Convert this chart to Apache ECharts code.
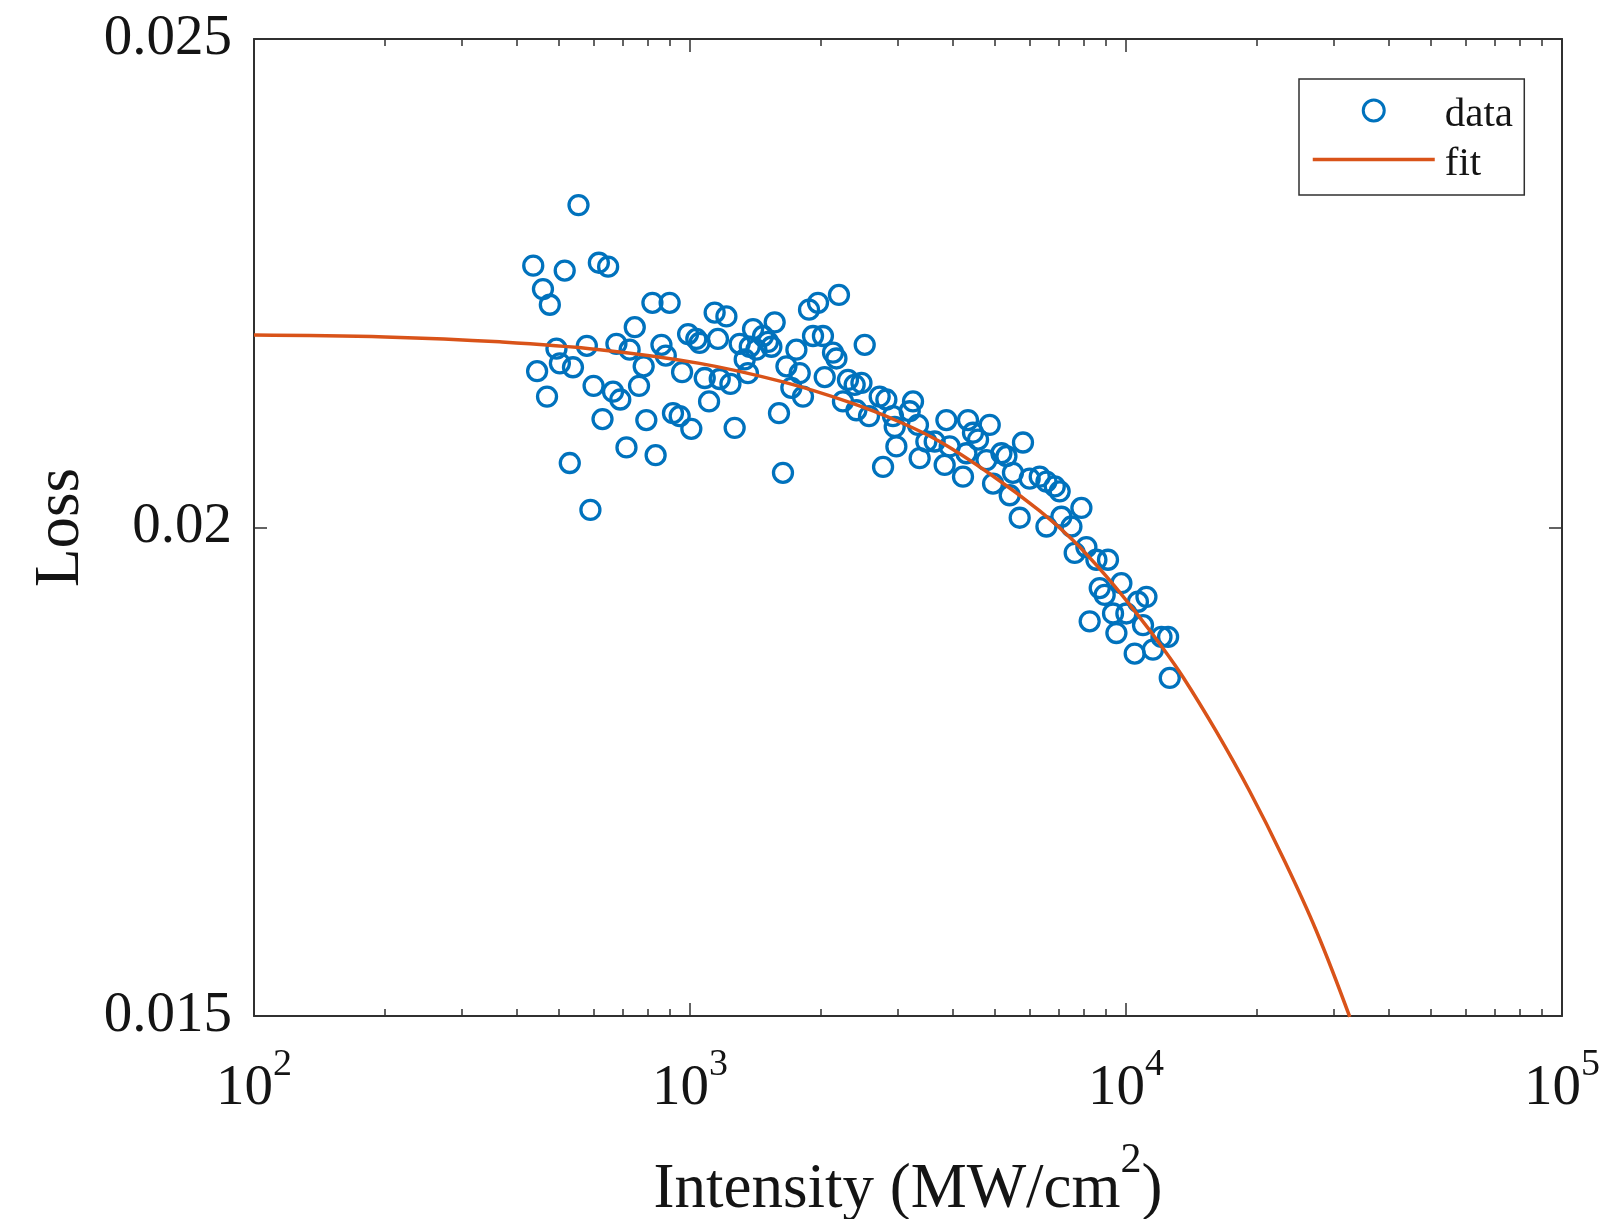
<!DOCTYPE html>
<html>
<head>
<meta charset="utf-8">
<script src="https://cdn.jsdelivr.net/npm/echarts@6/dist/echarts.min.js"></script>
<style>
html,body{margin:0;padding:0;background:#fff;}
#chart{width:1621px;height:1219px;}
</style>
</head>
<body>
<div id="chart"></div>
<script>
// ---- data ----
const intensity = [
  555,437,516,618,649,460,477,820,898,1139,
  1212,747,990,1034,1052,1159,1300,1395,1471,1510,
  1564,1371,1420,1537,1335,494,503,539,580,446,
  470,678,727,783,860,880,959,1081,1170,1238,
  1358,601,666,692,764,1106,630,794,914,947,
  1007,1266,715,834,530,591,1634,1600,1754,1875,
  1966,2196,1915,2018,2128,2167,2516,1664,1785,1708,
  1816,2037,2303,2386,2473,2243,2408,2574,2723,2821,
  2921,2974,2772,2948,3247,3191,3333,3484,3641,3363,
  3873,4341,4869,4457,4578,5804,3941,5179,5318,3838,
  4228,4955,5505,5411,6013,6341,6569,6864,7045,4305,
  4785,5704,6569,7109,7496,7901,7627,8113,8553,9093,
  8704,8935,9759,11140,10650,8254,9338,10020,9506,10940,
  12060,12490,10470,11530,12600
];
const loss = [
  0.02330,0.02268,0.02263,0.02271,0.02267,0.02244,0.02228,0.02230,0.02230,0.02220,
  0.02216,0.02205,0.02198,0.02193,0.02189,0.02193,0.02188,0.02203,0.02196,0.02190,
  0.02210,0.02185,0.02182,0.02185,0.02172,0.02183,0.02168,0.02164,0.02186,0.02160,
  0.02134,0.02188,0.02182,0.02165,0.02187,0.02176,0.02159,0.02153,0.02152,0.02147,
  0.02158,0.02145,0.02139,0.02131,0.02145,0.02129,0.02111,0.02110,0.02117,0.02114,
  0.02101,0.02102,0.02082,0.02074,0.02066,0.02018,0.02056,0.02117,0.02182,0.02223,
  0.02230,0.02238,0.02196,0.02196,0.02179,0.02173,0.02187,0.02165,0.02158,0.02143,
  0.02134,0.02154,0.02151,0.02146,0.02148,0.02129,0.02120,0.02114,0.02134,0.02131,
  0.02114,0.02083,0.02062,0.02103,0.02129,0.02119,0.02105,0.02088,0.02088,0.02071,
  0.02110,0.02110,0.02105,0.02097,0.02090,0.02087,0.02083,0.02076,0.02073,0.02064,
  0.02052,0.02045,0.02056,0.02033,0.02050,0.02052,0.02047,0.02042,0.02037,0.02076,
  0.02069,0.02010,0.02001,0.02011,0.02001,0.02020,0.01974,0.01980,0.01967,0.01967,
  0.01938,0.01931,0.01943,0.01929,0.01924,0.01904,0.01912,0.01912,0.01892,0.01900,
  0.01888,0.01888,0.01871,0.01875,0.01846
];
const fitIntensity = [100,200,366,621,1052,1634,2324,3027,3738,4869,6341,7557,9016,10750,11947,13508,16120,19215,22915,27330,32600];
const fitLoss = [0.02197,0.02195,0.02190,0.02182,0.02168,0.02149,0.02128,0.02108,0.02088,0.02055,0.02017,0.01987,0.01950,0.01908,0.01881,0.01847,0.01791,0.01730,0.01662,0.01587,0.01499];

const xMajorTicks = [100,1000,10000,100000];
const xTickExponents = ['2','3','4','5'];
const xMinorTicks = [200,300,400,500,600,700,800,900,2000,3000,4000,5000,6000,7000,8000,9000,20000,30000,40000,50000,60000,70000,80000,90000];
const yTicks = [0.015,0.02,0.025];
const yTickLabels = ['0.015','0.02','0.025'];
const seriesNames = ['data','fit'];

// ---- chart ----
const FONT = "'Liberation Serif','Times New Roman',serif";
const AXIS_COLOR = '#303030';
const TEXT_COLOR = '#141414';

const scatterData = intensity.map((v,i)=>[v, loss[i]]);
const fitData = fitIntensity.map((v,i)=>[v, fitLoss[i]]);

function xAxisBase(pos){
  return {
    type:'log', logBase:10, min:100, max:100000, gridIndex:0, position:pos,
    splitLine:{show:false}, minorSplitLine:{show:false},
    axisLine:{show:false, lineStyle:{color:AXIS_COLOR, width:2}},
    axisTick:{show:false}, axisLabel:{show:false}
  };
}
const xMajorBottom = Object.assign(xAxisBase('bottom'), {
  axisLine:{show:true, onZero:false, lineStyle:{color:AXIS_COLOR, width:2}},
  axisTick:{show:true, inside:true, length:13, customValues:xMajorTicks, lineStyle:{color:AXIS_COLOR, width:1.5}},
  axisLabel:{
    show:true, margin:30, customValues:xMajorTicks,
    formatter:function(v){
      const idx = xMajorTicks.indexOf(Math.round(v));
      return '{b|10}{s|' + (idx>=0 ? xTickExponents[idx] : '') + '}';
    },
    rich:{
      b:{fontFamily:FONT, fontSize:57, color:TEXT_COLOR, lineHeight:86},
      s:{fontFamily:FONT, fontSize:38, color:TEXT_COLOR, lineHeight:40, verticalAlign:'top'}
    }
  },
  name:'{t|Intensity (MW/cm}{s|2}{t|)}',
  nameLocation:'middle', nameGap:124,
  nameTextStyle:{
    rich:{
      t:{fontFamily:FONT, fontSize:63, color:TEXT_COLOR, lineHeight:100},
      s:{fontFamily:FONT, fontSize:42, color:TEXT_COLOR, lineHeight:30, verticalAlign:'top'}
    }
  }
});
const xMinorBottom = Object.assign(xAxisBase('bottom'), {
  axisTick:{show:true, inside:true, length:7, customValues:xMinorTicks, lineStyle:{color:AXIS_COLOR, width:1.5}}
});
const xMajorTop = Object.assign(xAxisBase('top'), {
  axisLine:{show:true, onZero:false, lineStyle:{color:AXIS_COLOR, width:2}},
  axisTick:{show:true, inside:true, length:13, customValues:xMajorTicks, lineStyle:{color:AXIS_COLOR, width:1.5}}
});
const xMinorTop = Object.assign(xAxisBase('top'), {
  axisTick:{show:true, inside:true, length:7, customValues:xMinorTicks, lineStyle:{color:AXIS_COLOR, width:1.5}}
});

const option = {
  animation:false,
  backgroundColor:'#ffffff',
  grid:{left:254, top:39, width:1308, height:977, containLabel:false, outerBoundsMode:'none'},
  legend:{
    orient:'vertical', left:1299, top:79,
    padding:[16,11,10,12],
    itemWidth:122, itemHeight:21, itemGap:8,
    borderColor:AXIS_COLOR, borderWidth:1.5, backgroundColor:'#ffffff',
    formatter:function(name){ return '{a|' + name + '}{sp| }'; },
    textStyle:{
      fontFamily:FONT, fontSize:41, color:TEXT_COLOR, padding:[0,0,0,5],
      rich:{
        a:{fontFamily:FONT, fontSize:41, color:TEXT_COLOR, lineHeight:41, verticalAlign:'bottom'},
        sp:{fontFamily:FONT, fontSize:1, lineHeight:51}
      }
    },
    data:[
      {name:seriesNames[0], icon:'circle', itemStyle:{color:'rgba(0,0,0,0)', borderColor:'#0072BD', borderWidth:3}},
      {name:seriesNames[1], itemStyle:{color:'rgba(0,0,0,0)', borderColor:'rgba(0,0,0,0)', borderWidth:0, opacity:0},
        lineStyle:{color:'#D95319', width:3.5, opacity:1}}
    ]
  },
  xAxis:[xMajorBottom, xMinorBottom, xMajorTop, xMinorTop],
  yAxis:[
    {
      type:'value', min:0.015, max:0.025, interval:0.005, position:'left', gridIndex:0,
      splitLine:{show:false},
      axisLine:{show:true, onZero:false, lineStyle:{color:AXIS_COLOR, width:2}},
      axisTick:{show:true, inside:true, length:13, lineStyle:{color:AXIS_COLOR, width:1.5}},
      axisLabel:{
        show:true, margin:22, fontFamily:FONT, fontSize:57, color:TEXT_COLOR,
        formatter:function(v){
          const idx = yTicks.findIndex(t=>Math.abs(t-v)<1e-9);
          return idx>=0 ? yTickLabels[idx] : '';
        }
      },
      name:'Loss', nameLocation:'middle', nameGap:160,
      nameTextStyle:{fontFamily:FONT, fontSize:63, color:TEXT_COLOR, lineHeight:63}
    },
    {
      type:'value', min:0.015, max:0.025, interval:0.005, position:'right', gridIndex:0,
      splitLine:{show:false},
      axisLine:{show:true, onZero:false, lineStyle:{color:AXIS_COLOR, width:2}},
      axisTick:{show:true, inside:true, length:13, lineStyle:{color:AXIS_COLOR, width:1.5}},
      axisLabel:{show:false}
    }
  ],
  series:[
    {
      name:seriesNames[0], type:'scatter', xAxisIndex:0, yAxisIndex:0,
      symbol:'circle', symbolSize:19,
      itemStyle:{color:'rgba(0,0,0,0)', borderColor:'#0072BD', borderWidth:3.3, opacity:1},
      data:scatterData, z:2
    },
    {
      name:seriesNames[1], type:'line', xAxisIndex:0, yAxisIndex:0,
      symbol:'none', smooth:0.4,
      lineStyle:{color:'#D95319', width:3.5},
      itemStyle:{color:'#D95319'},
      data:fitData, z:3
    }
  ]
};

const chart = echarts.init(document.getElementById('chart'), null, {renderer:'canvas'});
chart.setOption(option);
</script>
</body>
</html>
